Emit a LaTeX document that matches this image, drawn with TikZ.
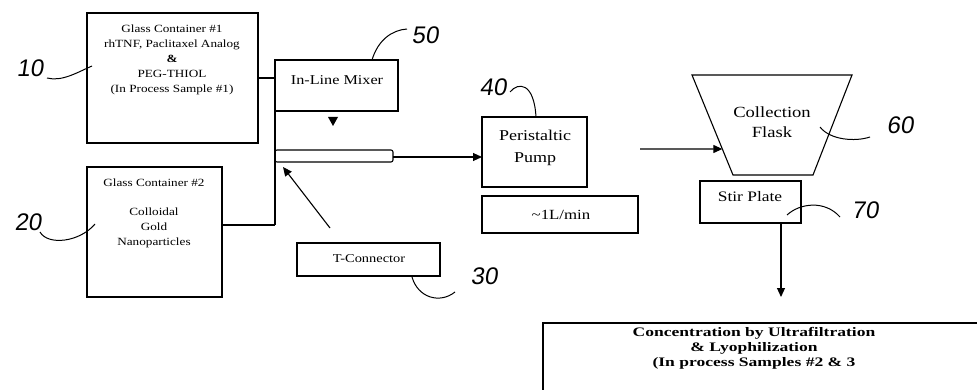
\documentclass[tikz,border=0pt]{standalone}
\usepackage{fontspec}
\setmainfont{Liberation Serif}[FakeStretch=1.2]
\newfontfamily\handfont{Liberation Sans}[FakeSlant=0.15]
\usetikzlibrary{arrows.meta,calc}

\tikzset{
  unit/.style={draw,line width=1.1pt,inner sep=0pt,outer sep=0pt,anchor=north west},
  pipe/.style={line width=1.1pt},
  flow/.style={line width=1.1pt,-{Triangle[length=9pt,width=8pt]}},
  lead/.style={line width=1pt},
  refnum/.style={font=\handfont\fontsize{24}{24}\selectfont},
}

\begin{document}
\begin{tikzpicture}[x=1pt,y=-1pt]
    \clip (0,0) rectangle (977,390);
    % glass containers
    \node[unit,minimum width=171,minimum height=130] (gc1) at (87,13) {};
    \node[align=center,font=\fontsize{11}{15}\selectfont] (gc1txt) at (172,60)
      {Glass Container \#1\\rhTNF, Paclitaxel Analog\\\textbf{\&}\\PEG-THIOL\\(In Process Sample \#1)};
    \node[unit,minimum width=135,minimum height=130] (gc2) at (87,167) {};
    \node[font=\fontsize{11}{15}\selectfont] (gc2top) at (154,183) {Glass Container \#2};
    \node[align=center,font=\fontsize{11}{15}\selectfont] (gc2txt) at (154,228)
      {Colloidal\\Gold\\Nanoparticles};
    % mixer and tube
    \node[unit,minimum width=123,minimum height=51] (mixer) at (275,60) {};
    \node[font=\fontsize{13.5}{16}\selectfont] (mixtxt) at (337,80) {In-Line Mixer};
    \fill (328,117) -- (338,117) -- (333,126) -- cycle;
    \node[unit,rounded corners=2pt,minimum width=118,minimum height=12] (tube) at (275,150) {};
    \coordinate (join1) at (275,78);
    \coordinate (join2) at (275,225);
    \draw[pipe] (gc1.east |- join1) -- (join1);
    \draw[pipe] (gc2.east |- join2) -- (join2);
    \draw[pipe] (mixer.north west) -- (join2);
    % T-connector
    \node[unit,minimum width=143,minimum height=33] (tcon) at (297,243) {};
    \node[font=\fontsize{12}{14}\selectfont] (tcontxt) at (369,259) {T-Connector};
    \coordinate (tfoot) at (330,228);
    \coordinate (ttip) at (283,167);
    \draw[flow] (tfoot) -- (ttip);
    % pump
    \node[unit,minimum width=105,minimum height=70] (pump) at (482,117) {};
    \node[align=center,font=\fontsize{15}{22}\selectfont] (pumptxt) at (535,148) {Peristaltic\\Pump};
    \node[unit,minimum width=156,minimum height=37] (rate) at (482,196) {};
    \node[font=\fontsize{14}{16}\selectfont] (ratetxt) at (561,215) {\textasciitilde 1L/min};
    \draw[flow] (tube.east |- 0,157) -- (pump.west |- 0,157);
    % collection flask
    \coordinate (fl1) at (692,75);
    \coordinate (fl2) at (852,75);
    \coordinate (fl3) at (813,175);
    \coordinate (fl4) at (733,175);
    \draw[pipe] (fl1) -- (fl2) -- (fl3) -- (fl4) -- cycle;
    \node[align=center,font=\fontsize{15.5}{20}\selectfont] (flask) at (772,122) {Collection\\Flask};
    \coordinate (pumpout) at (640,149);
    \coordinate (flaskin) at ($(fl1)!0.74!(fl4)$);
    \draw[flow] (pumpout) -- (flaskin);
    % stir plate and concentration
    \node[unit,minimum width=101,minimum height=42] (stir) at (700,181) {};
    \node[font=\fontsize{14.5}{16}\selectfont] (stirtxt) at (750,197) {Stir Plate};
    \node[unit,minimum width=500,minimum height=100] (conc) at (543,323) {};
    \node[align=center,font=\bfseries\addfontfeature{FakeStretch=1.35}\fontsize{13}{15}\selectfont] (conctxt) at (754,348)
      {Concentration by Ultrafiltration\\\& Lyophilization\\(In process Samples \#2 \& 3};
    \coordinate (stirdrop) at (781,297);
    \draw[flow] (stir.south -| stirdrop) -- (stirdrop);
    % reference numerals
    \node[refnum] (n10) at (30,68) {10};
    \draw[lead] (47,78) .. controls (62,82) and (78,72) .. (92,66);
    \node[refnum] (n20) at (28,222) {20};
    \draw[lead] (40,232) .. controls (48,246) and (80,242) .. (95,224);
    \node[refnum] (n50) at (425,35) {50};
    \draw[lead] (372,60) .. controls (378,40) and (392,30) .. (407,29);
    \node[refnum] (n40) at (493,87) {40};
    \draw[lead] (510,92) .. controls (518,82) and (534,82) .. (536,117);
    \node[refnum] (n30) at (484,276) {30};
    \draw[lead] (412,277) .. controls (418,298) and (440,304) .. (455,292);
    \node[refnum] (n60) at (900,125) {60};
    \draw[lead] (820,127) .. controls (830,140) and (855,142) .. (870,137);
    \node[refnum] (n70) at (865,210) {70};
    \draw[lead] (787,215) .. controls (800,203) and (825,200) .. (840,217);
\end{tikzpicture}
\end{document}
